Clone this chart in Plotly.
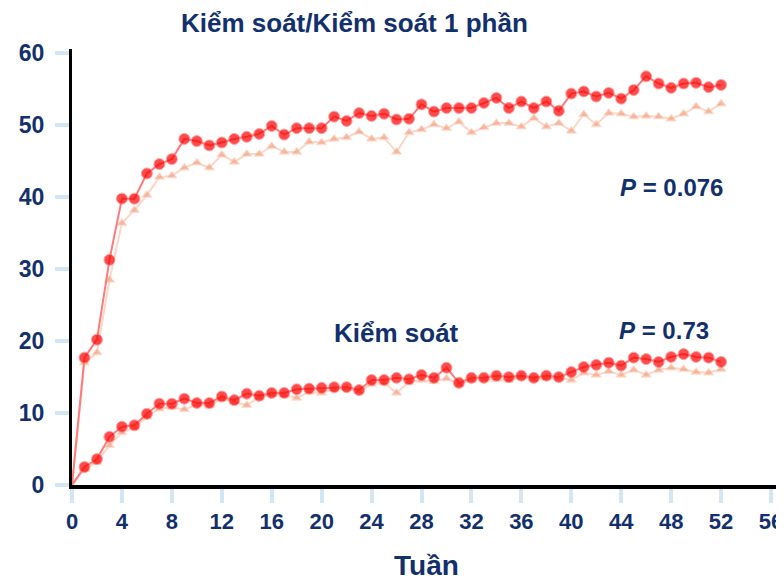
import plotly.graph_objects as go

weeks = list(range(53))

upper_circle = [0, 17.7, 20.2, 31.3, 39.8, 39.8, 43.3, 44.6, 45.3, 48.1, 47.8, 47.2, 47.6, 48.1,
                48.4, 48.8, 49.9, 48.7, 49.6, 49.6, 49.6, 51.2, 50.6, 51.7, 51.3, 51.6, 50.8,
                50.9, 52.9, 51.9, 52.4, 52.4, 52.4, 53.1, 53.8, 52.4, 53.3, 52.4, 53.3, 52.0,
                54.4, 54.7, 54.0, 54.5, 53.7, 54.9, 56.8, 55.8, 55.2, 55.8, 55.9, 55.3, 55.6]
upper_tri = [0, 17.0, 18.4, 28.5, 36.4, 38.2, 40.3, 42.8, 43.0, 44.1, 44.8, 44.1, 45.9, 44.9,
             46.0, 46.0, 47.1, 46.3, 46.3, 47.7, 47.6, 48.1, 48.3, 49.1, 48.1, 48.3, 46.3,
             49.0, 49.4, 50.1, 49.6, 50.5, 49.0, 49.7, 50.3, 50.3, 49.8, 51.0, 49.8, 50.3,
             49.2, 51.5, 50.1, 51.7, 51.6, 51.2, 51.3, 51.2, 50.9, 51.6, 52.6, 51.9, 53.0]
lower_circle = [0, 2.5, 3.6, 6.7, 8.1, 8.3, 9.9, 11.3, 11.3, 12.0, 11.4, 11.4, 12.3, 11.8,
                12.7, 12.4, 12.8, 12.8, 13.3, 13.4, 13.5, 13.6, 13.6, 13.2, 14.6, 14.6, 14.9,
                14.7, 15.3, 14.9, 16.3, 14.2, 14.9, 14.9, 15.2, 15.0, 15.2, 14.9, 15.2, 15.0,
                15.7, 16.4, 16.7, 17.0, 16.6, 17.7, 17.5, 17.1, 17.8, 18.2, 17.8, 17.7, 17.1]
lower_tri = [0, 2.2, 3.2, 5.5, 7.3, 8.0, 9.5, 10.6, 10.8, 10.5, 11.2, 11.0, 12.0, 11.5,
             11.1, 12.2, 12.6, 12.5, 12.1, 12.9, 12.8, 13.3, 13.4, 13.0, 14.0, 14.2, 12.8,
             14.3, 14.6, 14.4, 14.8, 14.0, 14.6, 14.7, 14.7, 14.6, 15.0, 14.7, 14.9, 14.9,
             14.6, 15.6, 15.3, 15.8, 15.3, 16.0, 15.3, 16.0, 16.3, 16.1, 15.7, 15.6, 16.1]

x_ticks = list(range(0, 57, 4))
y_ticks = list(range(0, 61, 10))

title_text = "Kiểm soát/Kiểm soát 1 phần"
lower_label = "Kiểm soát"
p_upper = "<i>P</i> = 0.076"
p_lower = "<i>P</i> = 0.73"
x_title = "Tuần"

NAVY = "#12306c"
RED = "#ff0000"
RED_LINE = "#ff7a7a"
SALMON = "#f5a585"
SALMON_LINE = "#fcd6c6"
FONT = "Liberation Sans"

circle_sizes = [0] + [11] * (len(weeks) - 1)
tri_sizes = [0] + [9] * (len(weeks) - 1)

fig = go.Figure()
for tri in (upper_tri, lower_tri):
    fig.add_trace(go.Scatter(x=weeks, y=tri, mode="lines+markers",
                             line=dict(color=SALMON_LINE, width=2),
                             marker=dict(symbol="triangle-up", size=tri_sizes, color=SALMON),
                             showlegend=False, hoverinfo="skip"))
for circ in (upper_circle, lower_circle):
    fig.add_trace(go.Scatter(x=weeks, y=circ, mode="lines+markers",
                             line=dict(color=RED_LINE, width=2),
                             marker=dict(symbol="circle", size=circle_sizes, color=RED),
                             showlegend=False, hoverinfo="skip"))

# page body has an 8px margin, so the figure is sized to fit the 784x584 window
fig.update_layout(
    width=776, height=576,
    margin=dict(l=64, r=8, t=41, b=99, autoexpand=False),
    paper_bgcolor="white", plot_bgcolor="white",
    font=dict(family=FONT, color=NAVY),
    xaxis=dict(range=[0, 56.4], tickvals=x_ticks, showgrid=False, zeroline=False,
               automargin=False,
               showline=True, linecolor="black", linewidth=4,
               ticks="outside", ticklen=14, tickwidth=4, tickcolor="#d2e6f5",
               tickfont=dict(family=FONT, size=22, color=NAVY, weight="bold"),
               ticklabelstandoff=0),
    yaxis=dict(range=[0, 60.6], tickvals=y_ticks, showgrid=False, zeroline=False,
               automargin=False,
               showline=True, linecolor="black", linewidth=3,
               ticks="outside", ticklen=14, tickwidth=4, tickcolor="#d2e6f5",
               tickfont=dict(family=FONT, size=23, color=NAVY, weight="bold"),
               ticklabelstandoff=6),
    shapes=[dict(type="line", xref="x", yref="paper", xsizemode="pixel", xanchor=0,
                 x0=-2.5, x1=-2.5, y0=0, y1=1, line=dict(color="#808080", width=2))],
)

def ann(text, x, y, size, yanchor="middle"):
    fig.add_annotation(text=text, x=x, y=y, xref="paper", yref="paper",
                       xanchor="center", yanchor=yanchor, showarrow=False,
                       font=dict(family=FONT, size=size, color=NAVY, weight="bold"))

ann(title_text, 0.401, 1.06, 26)
ann(lower_label, 0.461, 0.348, 26)
ann(p_upper, 0.851, 0.683, 24)
ann(p_lower, 0.841, 0.355, 24)
ann(x_title, 0.504, -0.225, 28, yanchor="bottom")

fig.write_html("out.html")
